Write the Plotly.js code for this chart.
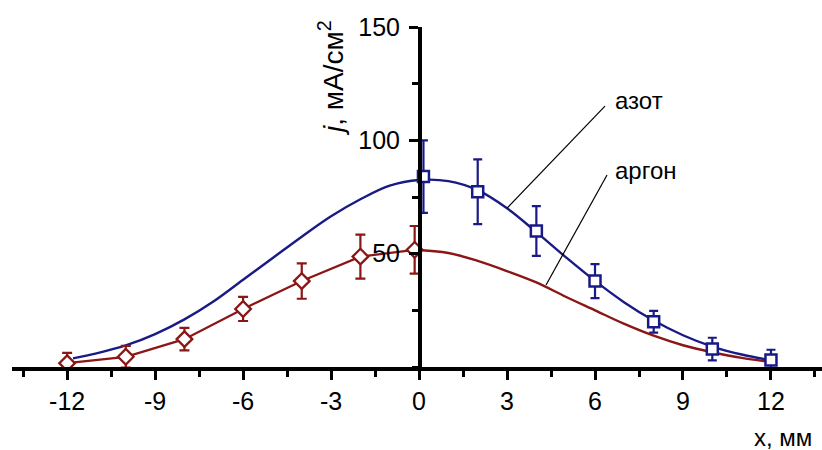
<!DOCTYPE html>
<html>
<head>
<meta charset="utf-8">
<script src="https://cdn.plot.ly/plotly-3.0.1.min.js"></script>
<style>html,body{margin:0;padding:0;background:#fff;}#chart{width:822px;height:450px;}</style>
</head>
<body>
<div id="chart"></div>
<script>
// Measured points: nitrogen (азот)
const n2X = [0.15, 2, 4, 6, 8, 10, 12];
const n2Y = [84, 77.3, 60, 37.9, 20, 7.9, 3.1];
const n2Err = [16, 14.3, 11, 7.5, 4.8, 5, 4.5];
// Measured points: argon (аргон)
const arX = [-12, -10, -8, -6, -4, -2, -0.15];
const arY = [1.7, 4.5, 12.3, 25.6, 37.9, 48.7, 51.7];
const arErr = [4.5, 4.8, 5, 5.3, 7.8, 9.7, 10.5];
// Fitted curves
const n2FitX = [-11.8, -11, -10, -9, -8, -7, -6, -5, -4, -3, -2, -1, 0, 1, 2, 3, 4, 5, 6, 7, 8, 9, 10, 11, 12];
const n2FitY = [3.8, 6, 9.5, 14.5, 21, 29, 38.5, 48, 57.5, 66.5, 74, 80, 82.5, 82, 78, 70, 59.5, 48.5, 38, 28.5, 20.5, 14, 9, 5.5, 3];
const arFitX = [-0.15, 1, 2, 3, 4, 5, 6, 7, 8, 9, 10, 11, 12];
const arFitY = [51.7, 50.3, 46.8, 42.3, 37.3, 31, 25, 19, 13.8, 9.6, 6.5, 4, 2.3];
// Tick labels
const xTickVals = [-12, -9, -6, -3, 0, 3, 6, 9, 12];
const xTickText = ['-12', '-9', '-6', '-3', '0', '3', '6', '9', '12'];
const yTickVals = [50, 100, 150];
const yTickText = ['50', '100', '150'];

const blue = '#1a1a86';
const red = '#8a1616';
const font = 'Liberation Sans, Arial, sans-serif';

const traces = [
  {x: n2FitX, y: n2FitY, type: 'scatter', mode: 'lines', line: {color: blue, width: 2.4, shape: 'spline'}, hoverinfo: 'skip'},
  {x: arFitX, y: arFitY, type: 'scatter', mode: 'lines', line: {color: red, width: 2.4, shape: 'spline'}, hoverinfo: 'skip'},
  {x: arX, y: arY, type: 'scatter', mode: 'lines+markers', cliponaxis: false,
   line: {color: red, width: 2.2},
   marker: {symbol: 'diamond', size: 12, color: '#ffffff', line: {color: red, width: 2.3}},
   error_y: {type: 'data', array: arErr, visible: true, color: red, thickness: 2.2, width: 5}},
  {x: n2X, y: n2Y, type: 'scatter', mode: 'markers', cliponaxis: false,
   marker: {symbol: 'square', size: 11, color: '#ffffff', line: {color: blue, width: 2.5}},
   error_y: {type: 'data', array: n2Err, visible: true, color: blue, thickness: 2.2, width: 4.5}}
];

const layout = {
  width: 822, height: 450,
  margin: {l: 12, r: 0, t: 27, b: 83},
  paper_bgcolor: '#ffffff', plot_bgcolor: '#ffffff',
  showlegend: false,
  font: {family: font, size: 25, color: '#000'},
  xaxis: {
    range: [-13.88, 13.74],
    showgrid: false, zeroline: false,
    showline: true, linecolor: '#000', linewidth: 3.5,
    tickmode: 'array', tickvals: xTickVals, ticktext: xTickText,
    ticks: 'outside', ticklen: 9, tickwidth: 3, tickcolor: '#000',
    tickfont: {family: font, size: 25, color: '#000'},
    minor: {tickmode: 'linear', tick0: 0, dtick: 1.5, ticks: 'outside', ticklen: 6, tickwidth: 3, tickcolor: '#000', showgrid: false},
    fixedrange: true
  },
  yaxis: {
    range: [0, 150],
    anchor: 'free', position: (419 - 12) / 810,
    showgrid: false, zeroline: false,
    showline: true, linecolor: '#000', linewidth: 3.5,
    tickmode: 'array', tickvals: yTickVals, ticktext: yTickText,
    ticks: 'outside', ticklen: 9, tickwidth: 3, tickcolor: '#000',
    tickfont: {family: font, size: 25, color: '#000'},
    ticklabelstandoff: 4,
    minor: {tickmode: 'linear', tick0: 0, dtick: 25, ticks: 'outside', ticklen: 6, tickwidth: 3, tickcolor: '#000', showgrid: false},
    fixedrange: true
  },
  shapes: [
    {type: 'line', xref: 'x', yref: 'y', x0: 3.0, y0: 70.1, x1: 6.34, y1: 115.1, line: {color: '#000', width: 1.2}},
    {type: 'line', xref: 'x', yref: 'y', x0: 4.33, y0: 36.2, x1: 6.41, y1: 84.7, line: {color: '#000', width: 1.2}}
  ],
  annotations: [
    {xref: 'paper', yref: 'paper', x: (331 - 12) / 810, y: (367 - 78) / 340, xanchor: 'center', yanchor: 'middle',
     textangle: -90, showarrow: false, text: '<i>j</i>, мА/см<sup>2</sup>', font: {family: font, size: 28, color: '#000'}},
    {xref: 'paper', yref: 'paper', x: (814 - 12) / 810, y: (367 - 437) / 340, xanchor: 'right', yanchor: 'middle',
     showarrow: false, text: 'x, мм', font: {family: font, size: 24, color: '#000'}},
    {xref: 'x', yref: 'y', x: 6.6, y: 117.5, xanchor: 'left', yanchor: 'middle', showarrow: false,
     text: 'азот', font: {family: font, size: 24, color: '#000'}},
    {xref: 'x', yref: 'y', x: 6.6, y: 86.6, xanchor: 'left', yanchor: 'middle', showarrow: false,
     text: 'аргон', font: {family: font, size: 24, color: '#000'}}
  ]
};

Plotly.newPlot('chart', traces, layout, {staticPlot: true, displayModeBar: false});
</script>
</body>
</html>
